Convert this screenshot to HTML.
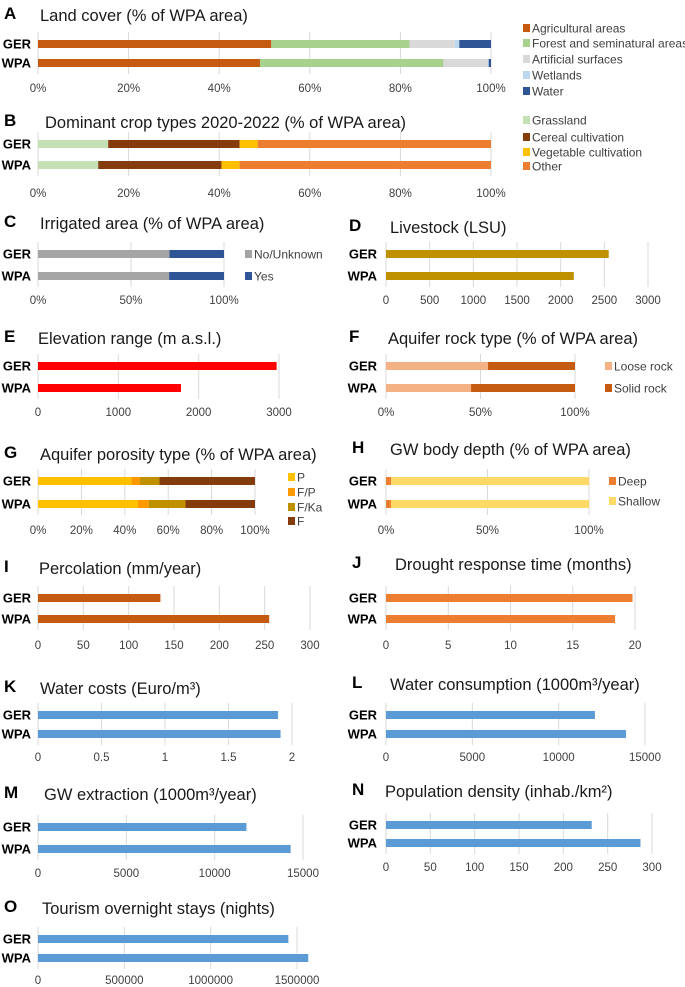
<!DOCTYPE html>
<html><head><meta charset="utf-8"><style>
html,body{margin:0;padding:0;background:#fff;}
svg{display:block;font-family:"Liberation Sans",sans-serif;}
</style></head><body>
<svg id="fig" width="685" height="987" viewBox="0 0 685 987"></svg>
<script>
const NS="http://www.w3.org/2000/svg";
const svg=document.getElementById('fig');
const rows=["GER","WPA"];
// Panel data
const aCats=["Agricultural areas","Forest and seminatural areas","Artificial surfaces","Wetlands","Water"];
const aGER=[51.5,30.5,10,1,7];
const aWPA=[49,40.5,9.8,0.2,0.5];
const bCats=["Grassland","Cereal cultivation","Vegetable cultivation","Other"];
const bGER=[15.5,29,4,51.5];
const bWPA=[13.3,27.2,4,55.5];
const cCats=["No/Unknown","Yes"];
const cGER=[70.7,29.3];
const cWPA=[70.5,29.5];
const dVals=[2550,2150];
const eVals=[2970,1780];
const fCats=["Loose rock","Solid rock"];
const fGER=[54,46];
const fWPA=[45,55];
const gCats=["P","F/P","F/Ka","F"];
const gGER=[43,4,9,44];
const gWPA=[46,5,17,32];
const hCats=["Deep","Shallow"];
const hGER=[2.5,97.5];
const hWPA=[2.5,97.5];
const iVals=[135,255];
const jVals=[19.8,18.4];
const kVals=[1.89,1.91];
const lVals=[12100,13900];
const mVals=[11800,14300];
const nVals=[232,287];
const oVals=[1450000,1565000];
const pctTicks5=["0%","20%","40%","60%","80%","100%"];
const pctTicks3=["0%","50%","100%"];

function el(tag,attrs,parent){const e=document.createElementNS(NS,tag);for(const k in attrs)e.setAttribute(k,attrs[k]);(parent||svg).appendChild(e);return e;}
function txt(s,attrs,parent){const e=el('text',attrs,parent);e.textContent=s;return e;}

function panel(p){
  const g=el('g',{});
  
  
  const L=txt(p.id,{x:p.lx,y:p.ty,'font-size':17,'font-weight':'bold',fill:'#000'},g);
  
  
  const T=txt(p.title,{x:p.tx,y:p.ty+2,'font-size':16.5,fill:'#1a1a1a'},g);
  
  
  const sx=v=>p.x0+(v/p.max)*(p.x1-p.x0);
  const top=p.yG-12,bot=p.yW+11;
  for(let i=0;i<p.ticks.length;i++){
    const v=p.max*i/(p.ticks.length-1);
    const ln=el('line',{x1:sx(v),x2:sx(v),y1:top,y2:bot,stroke:'#d9d9d9','stroke-width':1},g);
    
    
    const t=txt(p.ticks[i],{x:sx(v),y:p.yT,'font-size':11.5,'text-anchor':'middle',fill:'#404040'},g);
    
    
  }
  const ys=[p.yG,p.yW];
  const series=[p.ger,p.wpa];
  for(let r=0;r<2;r++){
    const rl=txt(rows[r],{x:p.rx,y:ys[r]+4.5,'font-size':13,'font-weight':'bold','text-anchor':'end',fill:'#000'},g);
    
    
    const vals=Array.isArray(series[r])?series[r]:[series[r]];
    let acc=0;
    for(let s=0;s<vals.length;s++){
      const x=sx(acc),w=sx(acc+vals[s])-x;
      const b=el('rect',{x:x,y:ys[r]-4,width:Math.max(w,0),height:8,fill:p.colors[s]},g);
      
      
      acc+=vals[s];
    }
  }
  if(p.cats){
    for(let s=0;s<p.cats.length;s++){
      const y=p.legY[s];
      const lg=el('g',{},g);
      
      
      el('rect',{x:p.legX,y:y-4,width:7,height:8,fill:p.colors[s]},lg);
      txt(p.cats[s],{x:p.legX+9,y:y+4.5,'font-size':12,fill:'#404040'},lg);
    }
  }
}
const blue='#5b9bd5';
const P=[
 {id:'A',title:'Land cover (% of WPA area)',lx:4,tx:40,ty:19,x0:38,x1:491,max:100,yG:44,yW:63,yT:92,rx:31,ticks:pctTicks5,ger:aGER,wpa:aWPA,cats:aCats,colors:['#c55a11','#a9d18e','#d9d9d9','#bdd7ee','#2f5597'],legX:523,legY:[28,43,59,75,91]},
 {id:'B',title:'Dominant crop types 2020-2022 (% of WPA area)',lx:4,tx:45,ty:126,x0:38,x1:491,max:100,yG:144,yW:165,yT:197,rx:31,ticks:pctTicks5,ger:bGER,wpa:bWPA,cats:bCats,colors:['#c5e0b4','#843c0c','#ffc000','#ed7d31'],legX:523,legY:[120,137,152,166]},
 {id:'C',title:'Irrigated area (% of WPA area)',lx:4,tx:40,ty:227,x0:38,x1:224,max:100,yG:254,yW:276,yT:304,rx:31,ticks:pctTicks3,ger:cGER,wpa:cWPA,cats:cCats,colors:['#a5a5a5','#2f5597'],legX:245,legY:[254,276]},
 {id:'D',title:'Livestock (LSU)',lx:349,tx:390,ty:231,x0:386,x1:648,max:3000,yG:254,yW:276,yT:304,rx:377,ticks:["0","500","1000","1500","2000","2500","3000"],ger:dVals[0],wpa:dVals[1],colors:['#bf9000']},
 {id:'E',title:'Elevation range (m a.s.l.)',lx:4,tx:38,ty:342,x0:38,x1:279,max:3000,yG:366,yW:388,yT:416,rx:31,ticks:["0","1000","2000","3000"],ger:eVals[0],wpa:eVals[1],colors:['#ff0000']},
 {id:'F',title:'Aquifer rock type (% of WPA area)',lx:349,tx:388,ty:342,x0:386,x1:575,max:100,yG:366,yW:388,yT:416,rx:377,ticks:pctTicks3,ger:fGER,wpa:fWPA,cats:fCats,colors:['#f4b183','#c55a11'],legX:605,legY:[366,388]},
 {id:'G',title:'Aquifer porosity type (% of WPA area)',lx:4,tx:40,ty:458,x0:38,x1:255,max:100,yG:481,yW:504,yT:534,rx:31,ticks:pctTicks5,ger:gGER,wpa:gWPA,cats:gCats,colors:['#ffc000','#ff9900','#bf9000','#843c0c'],legX:288,legY:[477,492,507,521]},
 {id:'H',title:'GW body depth (% of WPA area)',lx:352,tx:390,ty:453,x0:386,x1:589,max:100,yG:481,yW:504,yT:534,rx:377,ticks:pctTicks3,ger:hGER,wpa:hWPA,cats:hCats,colors:['#ed7d31','#ffd966'],legX:609,legY:[481,501]},
 {id:'I',title:'Percolation (mm/year)',lx:4,tx:39,ty:572,x0:38,x1:310,max:300,yG:598,yW:619,yT:649,rx:31,ticks:["0","50","100","150","200","250","300"],ger:iVals[0],wpa:iVals[1],colors:['#c55a11']},
 {id:'J',title:'Drought response time (months)',lx:352,tx:395,ty:568,x0:386,x1:635,max:20,yG:598,yW:619,yT:649,rx:377,ticks:["0","5","10","15","20"],ger:jVals[0],wpa:jVals[1],colors:['#ed7d31']},
 {id:'K',title:'Water costs (Euro/m³)',lx:4,tx:40,ty:692,x0:38,x1:292,max:2,yG:715,yW:734,yT:761,rx:31,ticks:["0","0.5","1","1.5","2"],ger:kVals[0],wpa:kVals[1],colors:[blue]},
 {id:'L',title:'Water consumption (1000m³/year)',lx:352,tx:390,ty:688,x0:386,x1:645,max:15000,yG:715,yW:734,yT:761,rx:377,ticks:["0","5000","10000","15000"],ger:lVals[0],wpa:lVals[1],colors:[blue]},
 {id:'M',title:'GW extraction (1000m³/year)',lx:4,tx:44,ty:798,x0:38,x1:303,max:15000,yG:827,yW:849,yT:877,rx:31,ticks:["0","5000","10000","15000"],ger:mVals[0],wpa:mVals[1],colors:[blue]},
 {id:'N',title:'Population density (inhab./km²)',lx:352,tx:385,ty:795,x0:386,x1:652,max:300,yG:825,yW:843,yT:871,rx:377,ticks:["0","50","100","150","200","250","300"],ger:nVals[0],wpa:nVals[1],colors:[blue]},
 {id:'O',title:'Tourism overnight stays (nights)',lx:4,tx:42,ty:912,x0:38,x1:297,max:1500000,yG:939,yW:958,yT:984,rx:31,ticks:["0","500000","1000000","1500000"],ger:oVals[0],wpa:oVals[1],colors:[blue]}
];
P.forEach(panel);
</script>
</body></html>
